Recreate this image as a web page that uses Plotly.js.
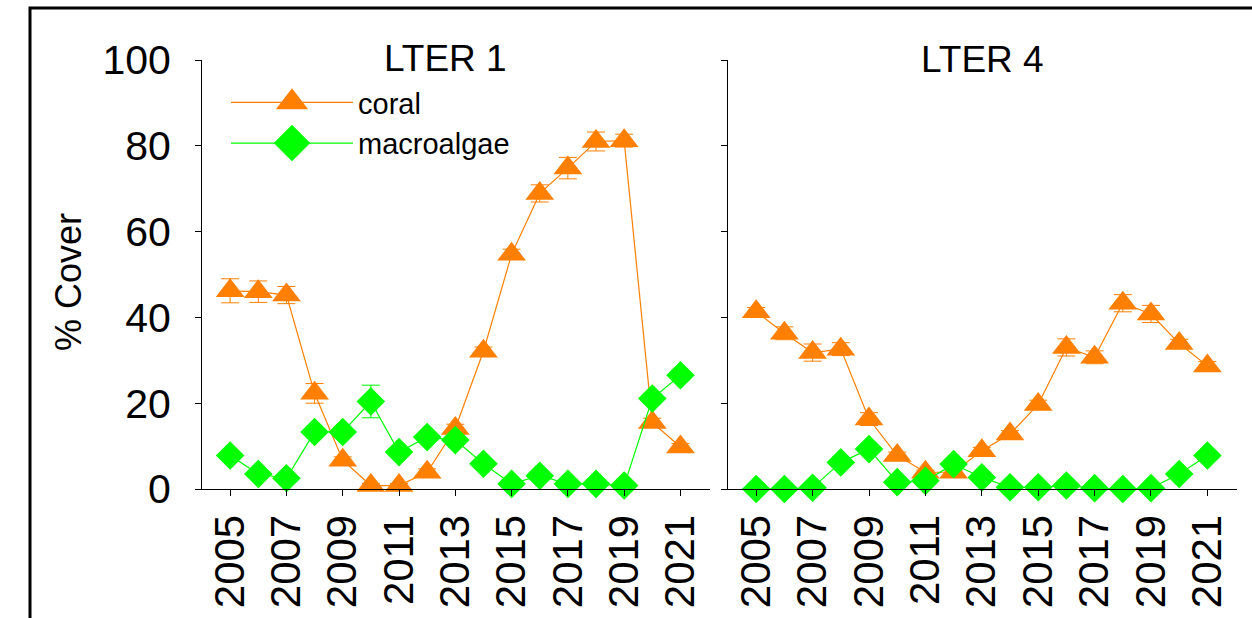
<!DOCTYPE html>
<html>
<head>
<meta charset="utf-8">
<script src="https://cdn.plot.ly/plotly-3.0.1.min.js"></script>
<style>html,body{margin:0;padding:0;background:#fff;}#chart{width:1252px;height:618px;}</style>
</head>
<body>
<div id="chart"></div>
<script>
// ---- data ----
const years = [2005, 2006, 2007, 2008, 2009, 2010, 2011, 2012, 2013, 2014, 2015, 2016, 2017, 2018, 2019, 2020, 2021];
const tickYears = [2005, 2007, 2009, 2011, 2013, 2015, 2017, 2019, 2021];
const yTicks = [0, 20, 40, 60, 80, 100];
const panelTitles = ["LTER 1", "LTER 4"];
const seriesNames = ["coral", "macroalgae"];
const yAxisLabel = "% Cover";

const coralLTER1 = [46.2, 46.0, 45.2, 22.3, 6.7, 0.8, 0.8, 3.9, 14.1, 32.1, 54.7, 68.9, 74.8, 81.0, 81.2, 15.5, 9.8];
const coralErrLTER1 = [2.8, 2.5, 2.0, 2.3, 0.8, 0.5, 0.5, 0.8, 1.0, 1.0, 1.2, 2.0, 2.5, 2.2, 1.5, 1.0, 0.8];
const macroLTER1 = [7.8, 3.5, 2.5, 13.3, 13.3, 20.4, 8.6, 12.1, 11.4, 5.9, 1.2, 3.1, 1.2, 1.2, 0.8, 21.1, 26.5];
const macroErrLTER1 = [0.8, 0.5, 0.5, 1.0, 1.0, 3.8, 1.0, 1.0, 1.0, 0.8, 0.3, 0.5, 0.3, 0.3, 0.3, 1.2, 1.2];

const coralLTER4 = [41.3, 36.3, 31.8, 32.6, 16.3, 7.8, 3.9, 3.9, 8.9, 12.8, 19.7, 33.0, 30.7, 43.3, 40.8, 33.9, 28.7];
const coralErrLTER4 = [1.0, 1.5, 2.0, 1.5, 1.5, 0.8, 0.5, 0.5, 0.8, 0.8, 1.0, 2.0, 1.5, 2.0, 2.0, 1.0, 1.0];
const macroLTER4 = [0.0, 0.0, 0.3, 6.2, 9.3, 1.6, 1.9, 5.8, 2.7, 0.4, 0.4, 0.8, 0.2, 0.0, 0.2, 3.5, 7.8];
const macroErrLTER4 = [0.1, 0.1, 0.2, 0.8, 1.0, 0.5, 0.5, 0.8, 0.5, 0.2, 0.2, 0.3, 0.1, 0.1, 0.1, 0.5, 0.8];

// ---- style ----
const FONT = "Arial, 'Liberation Sans', sans-serif";
const ORANGE = "#FF7F00";
const GREEN = "#00FF00";

function coralTrace(y, err, xa, ya, show) {
  return {
    type: "scatter", mode: "lines+markers", name: seriesNames[0], legendgroup: "coral",
    showlegend: show, x: years, y: y, xaxis: xa, yaxis: ya, cliponaxis: false,
    line: {color: ORANGE, width: 1.2},
    marker: {symbol: "triangle-up", size: 25, color: ORANGE},
    error_y: {type: "data", array: err, visible: true, color: ORANGE, thickness: 1, width: 9}
  };
}
function macroTrace(y, err, xa, ya, show) {
  return {
    type: "scatter", mode: "lines+markers", name: seriesNames[1], legendgroup: "macro",
    showlegend: show, x: years, y: y, xaxis: xa, yaxis: ya, cliponaxis: false,
    line: {color: GREEN, width: 1.2},
    marker: {symbol: "diamond", size: 22, color: GREEN},
    error_y: {type: "data", array: err, visible: true, color: GREEN, thickness: 1, width: 9}
  };
}

const data = [
  coralTrace(coralLTER1, coralErrLTER1, "x", "y", true),
  macroTrace(macroLTER1, macroErrLTER1, "x", "y", true),
  coralTrace(coralLTER4, coralErrLTER4, "x2", "y2", false),
  macroTrace(macroLTER4, macroErrLTER4, "x2", "y2", false)
];

const W = 1252, H = 618;
const yDom = [(H - 489) / H, (H - 60) / H];

function xAxis(domain, anchor) {
  return {
    domain: domain, anchor: anchor, range: [2004, 2022.05],
    tickvals: tickYears, ticktext: tickYears.map(String), tickangle: -90,
    ticks: "outside", ticklen: 6, tickwidth: 1, tickcolor: "#000",
    showline: true, linecolor: "#000", linewidth: 1,
    showgrid: false, zeroline: false,
    tickfont: {family: FONT, size: 42, color: "#000"},
    ticklabelstandoff: 2
  };
}
function yAxis(anchor, labels) {
  return {
    domain: yDom, anchor: anchor, range: [0, 100],
    tickvals: yTicks, ticktext: yTicks.map(String), showticklabels: labels,
    ticks: "outside", ticklen: 6, tickwidth: 1, tickcolor: "#000",
    showline: true, linecolor: "#000", linewidth: 1,
    showgrid: false, zeroline: false,
    tickfont: {family: FONT, size: 41, color: "#000"},
    ticklabelstandoff: 16
  };
}

const layout = {
  width: W, height: H,
  margin: {l: 0, r: 0, t: 0, b: 0, pad: 0},
  paper_bgcolor: "#fff", plot_bgcolor: "rgba(0,0,0,0)",
  font: {family: FONT, color: "#000"},
  showlegend: true,
  legend: {
    x: 226 / W, y: (H - 77) / H, xanchor: "left", yanchor: "top",
    bgcolor: "rgba(0,0,0,0)", borderwidth: 0,
    font: {family: FONT, size: 29, color: "#000"},
    itemwidth: 122, tracegroupgap: 0
  },
  xaxis: xAxis([202 / W, 710 / W], "y"),
  yaxis: yAxis("x", true),
  xaxis2: xAxis([728 / W, 1237 / W], "y2"),
  yaxis2: yAxis("x2", false),
  annotations: [
    {text: panelTitles[0], xref: "paper", yref: "paper", x: 445 / W, y: (H - 58) / H,
     xanchor: "center", yanchor: "middle", showarrow: false, font: {family: FONT, size: 37, color: "#000"}},
    {text: panelTitles[1], xref: "paper", yref: "paper", x: 982 / W, y: (H - 59) / H,
     xanchor: "center", yanchor: "middle", showarrow: false, font: {family: FONT, size: 37, color: "#000"}},
    {text: yAxisLabel, xref: "paper", yref: "paper", x: 68 / W, y: (H - 282) / H,
     xanchor: "center", yanchor: "middle", textangle: -90, showarrow: false,
     font: {family: FONT, size: 36, color: "#000"}}
  ],
  shapes: [
    {type: "rect", xref: "paper", yref: "paper", x0: 30 / W, x1: 1.05, y0: -0.1, y1: (H - 8) / H,
     line: {color: "#000", width: 3}, fillcolor: "rgba(0,0,0,0)", layer: "above"}
  ]
};

const gd = document.getElementById("chart");
Plotly.newPlot(gd, data, layout, {staticPlot: true, displayModeBar: false}).then(function () {
  // enlarge legend symbols to match the plotted marker size (Plotly caps legend markers at 16px)
  gd.querySelectorAll(".legend .legendpoints path.scatterpts").forEach(function (p) {
    var t = p.getAttribute("transform") || "";
    p.setAttribute("transform", t + " scale(1.75)");
  });
});
</script>
</body>
</html>
